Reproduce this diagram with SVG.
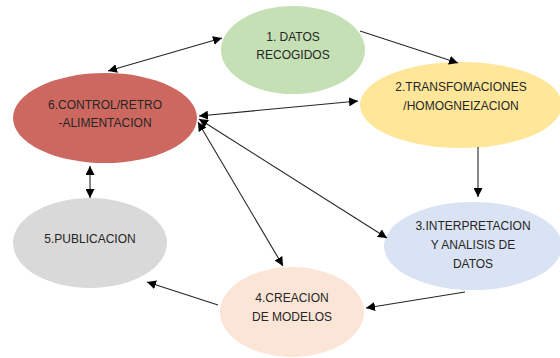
<svg xmlns="http://www.w3.org/2000/svg" width="560" height="358" viewBox="0 0 560 358">
<style>
text{font-family:"Liberation Sans",Arial,sans-serif;font-size:12px;fill:#262626;text-anchor:middle}
.c line{stroke:#262626;stroke-width:1.1;fill:none}
</style>
<defs>
<marker id="a" viewBox="0 0 10 10" refX="10" refY="5" markerWidth="9" markerHeight="9" markerUnits="userSpaceOnUse" orient="auto-start-reverse"><path d="M0,0L10,5L0,10z" fill="#000"/></marker>
</defs>
<rect width="560" height="358" fill="#fff"/>
<g id="n1"><ellipse cx="293" cy="50" rx="72" ry="44" fill="#c5e0b4"/><text x="293" y="41">1. DATOS</text><text x="293" y="59">RECOGIDOS</text></g>
<g id="n2"><ellipse cx="461" cy="105" rx="101" ry="43" fill="#ffe699"/><text x="461" y="91">2.TRANSFOMACIONES</text><text x="461" y="110">/HOMOGNEIZACION</text></g>
<g id="n3"><ellipse cx="473" cy="246" rx="89" ry="44" fill="#dae3f3"/><text x="473" y="230">3.INTERPRETACION</text><text x="473" y="249">Y ANALISIS DE</text><text x="473" y="268">DATOS</text></g>
<g id="n4"><ellipse cx="292" cy="312" rx="72" ry="45" fill="#fbe5d6"/><text x="292" y="302">4.CREACION</text><text x="292" y="321">DE MODELOS</text></g>
<g id="n5"><ellipse cx="90" cy="243" rx="77" ry="45" fill="#d9d9d9"/><text x="90" y="243">5.PUBLICACION</text></g>
<g id="n6"><ellipse cx="105" cy="118" rx="92" ry="45" fill="#cd6860"/><text x="105" y="109">6.CONTROL/RETRO</text><text x="105" y="127">-ALIMENTACION</text></g>
<g class="c" id="connectors">
<line x1="108" y1="71" x2="222" y2="38" marker-start="url(#a)" marker-end="url(#a)"/>
<line x1="360" y1="31" x2="458" y2="63" marker-end="url(#a)"/>
<line x1="199" y1="116" x2="358" y2="101" marker-start="url(#a)" marker-end="url(#a)"/>
<line x1="199" y1="119" x2="387" y2="238" marker-start="url(#a)" marker-end="url(#a)"/>
<line x1="198" y1="122" x2="283" y2="266" marker-start="url(#a)" marker-end="url(#a)"/>
<line x1="478" y1="147" x2="478" y2="197" marker-end="url(#a)"/>
<line x1="465" y1="292" x2="366" y2="308" marker-end="url(#a)"/>
<line x1="218" y1="305" x2="147" y2="282" marker-end="url(#a)"/>
<line x1="90" y1="166" x2="90" y2="198" marker-start="url(#a)" marker-end="url(#a)"/>
</g>
</svg>
